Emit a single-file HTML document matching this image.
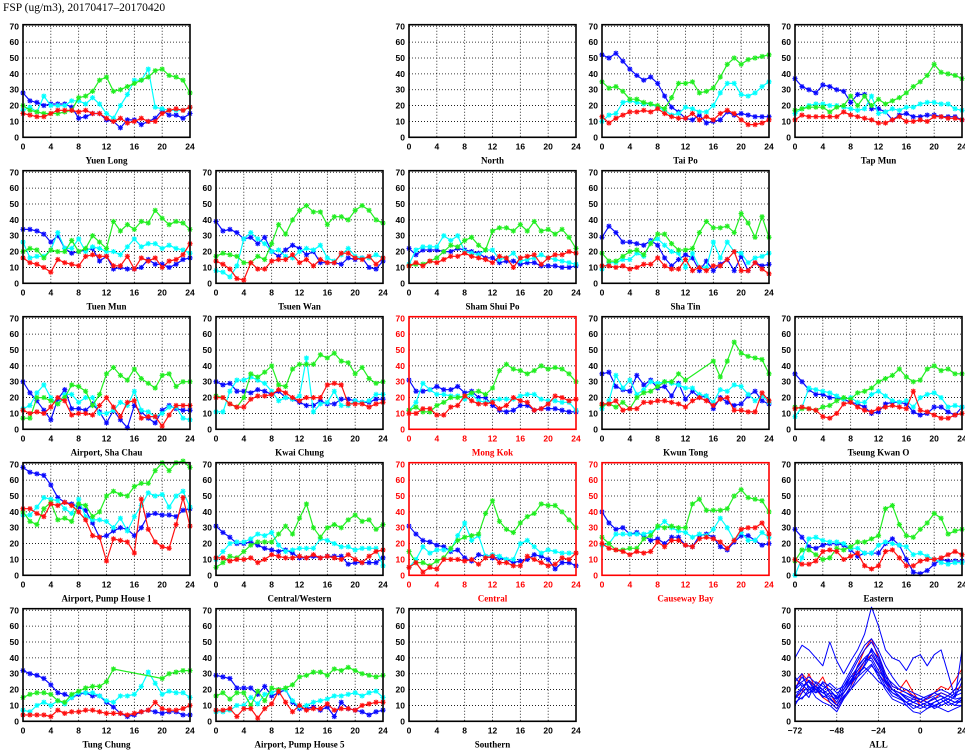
<!DOCTYPE html>
<html><head><meta charset="utf-8"><style>
html,body{margin:0;padding:0;background:#fff;}
svg{display:block;}
text{font-family:"Liberation Sans",sans-serif;font-weight:bold;}
</style></head><body>
<svg id="chart" width="965" height="755" viewBox="0 0 965 755" xmlns="http://www.w3.org/2000/svg">
<rect x="0" y="0" width="965" height="755" fill="#fff"/>
<text x="3" y="11" font-size="11.5" style="font-family:'Liberation Serif',serif;font-weight:normal">FSP (ug/m3), 20170417–20170420</text>
</svg>
<script>
const hours = [0,1,2,3,4,5,6,7,8,9,10,11,12,13,14,15,16,17,18,19,20,21,22,23,24];
const xTicks = [0,4,8,12,16,20,24];
const yTicks = [0,10,20,30,40,50,60,70];
const stations = ["Yuen Long","North","Tai Po","Tap Mun","Tuen Mun","Tsuen Wan","Sham Shui Po","Sha Tin","Airport, Sha Chau","Kwai Chung","Mong Kok","Kwun Tong","Tseung Kwan O","Airport, Pump House 1","Central/Western","Central","Causeway Bay","Eastern","Tung Chung","Airport, Pump House 5","Southern"];
const roadside = [false,false,false,false,false,false,false,false,false,false,true,false,false,false,false,true,true,false,false,false,false];
const N = null;
const blueSeries = [
[28,23,22,20,21,21,21,19,12,13,15,15,11,10,6,11,11,8,10,12,17,14,14,12,15],
[],
[52,50,53,48,43,39,36,38,34,26,19,16,12,11,14,9,10,11,16,14,15,14,13,13,13],
[37,32,30,28,33,32,30,29,22,27,27,18,18,16,11,14,15,13,13,14,14,13,13,13,11],
[34,34,33,31,26,30,22,19,20,21,22,14,17,9,10,9,9,10,15,12,12,10,12,15,16],
[39,33,34,32,28,29,25,29,20,17,21,24,22,18,20,13,13,13,12,16,15,16,10,9,14],
[22,18,21,21,21,20,20,22,21,20,19,16,16,13,14,14,12,13,13,11,11,11,10,10,11],
[29,36,32,26,26,25,24,27,24,16,11,15,18,16,8,14,8,12,15,8,17,8,13,11,12],
[30,23,18,12,6,19,25,13,13,12,16,11,4,12,6,1,15,11,7,4,12,15,13,12,12],
[30,28,29,24,24,23,25,24,22,24,20,19,17,15,15,18,16,16,19,19,18,17,17,19,19],
[31,24,24,25,27,25,25,27,23,24,20,20,15,12,11,12,15,15,12,13,13,13,12,11,11],
[35,36,27,25,24,34,28,31,26,27,21,29,19,24,20,21,13,20,17,15,16,21,24,18,16],
[35,30,25,22,22,20,20,19,17,16,14,10,11,16,17,17,16,11,9,10,14,14,11,9,14],
[68,65,64,63,57,49,46,45,43,41,33,24,25,28,30,29,25,30,38,39,38,38,37,41,42],
[31,27,24,20,20,21,19,17,16,15,16,14,11,11,12,11,12,12,12,7,8,8,8,8,11],
[31,26,22,21,19,18,15,16,11,9,13,12,11,11,10,8,9,10,13,12,10,4,8,8,6],
[40,33,29,30,26,27,25,22,23,20,24,24,19,18,25,26,24,18,16,21,25,25,22,19,20],
[29,24,18,17,19,20,20,19,16,12,14,14,14,20,23,19,10,2,1,3,7,10,9,9,9],
[32,30,29,27,23,18,17,15,17,18,16,16,12,9,5,3,4,6,7,6,5,6,6,4,4],
[29,28,27,21,21,21,17,22,16,18,20,12,8,8,9,7,9,3,12,8,7,6,4,6,7],
[]
];
const cyanSeries = [
[17,19,16,26,20,20,20,23,23,21,25,21,15,12,20,27,36,36,43,19,18,17,17,17,19],
[],
[10,14,15,22,23,22,21,21,19,17,14,15,19,18,16,16,20,28,34,34,27,26,28,32,35],
[15,18,20,21,21,20,20,19,18,17,18,26,15,16,18,17,19,19,21,22,22,21,21,18,17],
[26,16,17,17,21,32,22,22,28,20,23,22,20,20,18,23,28,23,25,25,22,24,22,21,19],
[8,7,4,11,28,32,28,25,20,21,17,16,20,22,21,24,16,14,18,22,17,16,16,18,16],
[12,21,23,23,23,30,27,30,20,19,18,21,21,15,16,19,14,15,16,18,16,15,14,13,12],
[9,13,13,15,15,19,17,26,28,24,20,19,10,19,10,10,26,16,26,20,19,13,16,17,19],
[13,15,23,28,20,16,22,22,17,20,20,10,10,12,17,15,24,12,11,8,10,14,14,7,6],
[11,11,24,31,31,33,31,29,24,18,20,19,21,45,11,16,17,24,15,15,18,17,18,22,22],
[12,17,29,25,22,22,21,21,19,22,18,17,18,19,19,19,21,22,22,19,18,18,17,17,12],
[13,18,34,26,31,22,25,30,29,30,29,28,26,26,22,21,17,25,24,28,27,22,18,21,17],
[8,14,26,25,24,23,21,19,20,17,17,22,24,21,18,17,18,14,20,22,23,20,14,15,14],
[38,38,43,49,48,47,42,39,48,37,35,35,34,30,36,28,37,44,52,50,51,43,50,53,43],
[10,15,20,21,21,23,26,25,27,19,15,16,17,17,17,23,22,20,18,18,16,17,17,17,6],
[5,10,18,14,16,16,16,25,33,22,25,12,13,12,10,10,20,22,18,14,16,15,14,14,14],
[19,20,26,26,26,26,26,27,30,34,30,28,27,24,26,25,29,36,30,22,27,22,22,27,24],
[0,11,23,24,22,21,21,20,17,17,14,14,19,21,20,19,18,13,14,12,10,8,7,8,8],
[7,6,10,12,10,13,11,15,18,18,18,16,13,12,16,16,17,22,31,24,17,19,18,18,15],
[6,6,7,10,10,15,11,17,18,20,20,13,9,10,12,13,14,16,16,17,18,16,18,19,15],
[]
];
const greenSeries = [
[20,17,16,15,15,15,16,17,25,26,29,36,38,29,30,32,34,36,38,42,43,39,38,36,28],
[],
[35,31,32,29,24,24,22,21,20,18,25,34,34,35,28,29,31,38,46,50,46,49,50,51,52],
[17,18,19,19,19,16,19,20,26,20,26,20,24,21,23,25,28,32,35,39,46,41,40,39,37],
[20,22,21,16,21,20,20,27,20,22,30,26,22,39,33,37,34,39,38,46,41,37,39,38,34],
[17,19,18,17,13,13,17,15,25,37,31,40,46,49,45,45,37,42,42,40,46,49,46,40,38],
[11,12,12,14,16,20,24,23,27,29,24,21,33,35,35,33,37,33,39,33,34,31,34,29,22],
[19,14,14,17,20,21,18,25,31,31,25,21,21,22,32,39,35,35,36,32,44,38,29,42,29],
[7,7,20,20,18,16,20,28,27,24,15,22,35,39,34,31,38,32,29,26,34,35,27,30,30],
[21,20,16,14,20,35,33,36,40,28,27,38,41,41,41,47,45,48,43,42,35,39,32,29,30],
[12,14,11,11,15,17,20,20,21,23,24,22,26,37,41,38,37,35,37,40,38,39,38,35,30],
[15,16,14,17,13,20,23,24,27,30,30,35,31,N,N,N,43,33,43,55,48,46,45,44,35],
[14,13,13,12,14,15,18,20,19,23,24,26,30,32,34,38,33,30,31,38,40,37,38,35,35],
[40,34,32,42,46,35,36,34,45,44,37,40,50,53,51,50,56,58,58,66,71,66,71,72,68],
[5,8,12,11,15,19,21,21,21,26,31,26,36,45,30,24,30,32,30,35,38,34,35,29,32],
[15,8,8,6,9,11,17,22,24,25,26,39,47,34,29,27,33,37,39,45,44,44,40,35,30],
[24,20,16,16,17,17,23,25,31,30,31,30,30,45,48,41,41,41,42,50,54,49,48,47,40],
[9,16,16,13,10,11,17,16,18,21,21,23,25,42,44,32,25,24,29,33,39,36,26,28,29],
[15,17,18,18,17,13,12,17,19,21,22,22,25,33,N,N,N,N,N,N,27,30,31,32,32],
[16,18,14,18,18,10,19,13,21,20,21,23,28,29,31,31,29,33,32,34,32,30,29,28,29],
[]
];
const redSeries = [
[15,14,13,13,15,17,17,17,16,17,15,15,12,10,12,9,10,12,10,10,15,17,18,17,19],
[],
[13,9,12,14,16,16,17,16,18,15,13,12,12,15,11,13,11,15,17,15,11,8,8,9,11],
[11,14,13,13,13,13,13,16,14,13,12,11,9,9,11,13,10,10,11,10,13,13,12,12,11],
[16,13,12,10,7,15,13,12,11,17,18,17,17,11,11,17,9,16,14,16,10,14,15,18,25],
[14,12,9,3,2,13,9,9,14,15,15,18,13,15,11,15,13,13,19,19,16,15,17,12,16],
[11,13,11,14,13,15,17,17,19,17,16,15,13,17,16,10,16,17,18,12,16,18,18,20,19],
[11,11,10,11,9,10,12,12,16,11,9,9,15,8,10,8,11,11,15,20,8,8,13,9,6],
[12,10,11,10,14,20,18,9,10,10,9,15,20,14,8,17,18,7,8,8,2,9,15,15,15],
[20,20,16,14,14,19,21,21,22,25,23,20,18,20,20,20,28,29,28,16,16,16,14,16,17],
[10,10,13,13,9,9,14,15,21,18,16,16,17,13,15,20,18,17,12,13,16,21,20,18,19],
[16,16,18,12,13,13,17,17,18,18,17,16,14,18,20,18,15,19,20,12,12,11,11,23,18],
[13,14,13,12,8,7,10,16,17,14,12,11,13,14,15,14,13,24,12,11,9,7,7,9,10],
[42,42,39,37,45,44,46,44,40,35,25,24,9,23,22,21,14,48,29,21,18,17,32,49,31],
[11,11,9,10,10,11,8,10,13,12,11,11,12,11,13,11,12,11,10,13,10,8,12,15,16],
[5,8,2,5,4,10,10,10,9,10,7,11,12,8,8,6,6,12,10,8,6,7,11,10,14],
[20,17,16,15,13,15,14,15,21,18,22,22,19,18,23,24,23,21,17,22,29,30,30,33,26],
[10,7,7,9,15,16,15,10,12,14,6,4,6,15,16,11,6,6,9,10,10,11,13,15,13],
[4,4,4,4,3,7,5,6,6,7,7,6,5,5,5,4,5,6,7,12,8,7,7,8,10],
[7,7,8,3,8,8,2,8,11,19,12,6,10,7,8,8,11,7,8,8,7,10,11,12,12],
[]
];
const allHours = [-72,-68,-64,-60,-56,-52,-48,-44,-40,-36,-32,-28,-24,-20,-16,-12,-8,-4,0,4,8,12,16,20,24];
const allTicks = [-72,-48,-24,0,24];
const allBlue = [
[40,48,45,40,35,50,38,30,38,45,55,72,60,45,40,38,32,40,42,35,42,45,30,15,45],
[20,28,22,20,18,15,10,18,25,32,38,45,40,28,20,18,15,12,10,12,15,10,12,10,14],
[15,22,25,18,20,12,8,15,22,35,40,38,30,22,18,15,12,10,8,10,12,14,10,12,15],
[25,30,20,22,15,18,12,20,28,30,35,42,35,25,20,18,16,14,12,15,18,16,14,18,20],
[10,18,22,15,12,10,6,14,20,28,32,36,28,20,14,12,10,6,5,8,10,8,6,8,10],
[22,25,28,24,20,16,14,22,30,38,45,50,42,30,22,20,18,15,14,16,18,20,18,15,25],
[18,20,15,25,22,20,15,18,24,30,34,30,25,22,16,14,12,8,10,12,10,12,14,12,12],
[12,15,18,20,16,14,10,16,20,25,30,35,30,24,18,16,10,12,14,12,8,10,12,10,10],
[28,22,25,20,24,18,16,24,32,40,48,52,45,35,28,22,20,18,16,14,16,18,16,20,28],
[16,14,20,18,25,22,18,20,26,32,38,40,32,26,20,18,14,12,10,8,12,14,16,14,15],
[20,24,18,22,20,24,20,22,28,34,40,44,36,28,24,20,18,16,14,12,14,16,12,16,18],
[14,20,26,22,18,20,14,18,24,28,36,46,38,26,20,16,12,14,12,10,9,12,14,12,13]
];
const allRed = [
[20,30,25,22,28,18,10,18,25,35,45,52,40,30,22,20,26,18,12,14,18,22,20,26,33],
[15,18,30,20,15,12,8,15,22,30,38,42,35,24,20,18,20,16,10,12,14,18,16,20,22]
];

// layout (not data)
const layout = [[0,0],[2,0],[3,0],[4,0],[0,1],[1,1],[2,1],[3,1],[0,2],[1,2],[2,2],[3,2],[4,2],[0,3],[1,3],[2,3],[3,3],[4,3],[0,4],[1,4],[2,4]];
const PW = 167, PH = 112.6, X0 = 23, Y0 = 24.7, CP = 193, RP = 146, YMAX = 71;
const NS = "http://www.w3.org/2000/svg";
const svg = document.getElementById('chart');
function mk(tag, attrs, parent){ const e=document.createElementNS(NS,tag); for(const k in attrs) e.setAttribute(k,attrs[k]); (parent||svg).appendChild(e); return e; }
function slug(s){ return s.toLowerCase().replace(/[^a-z0-9]+/g,'-').replace(/^-|-$/g,''); }

function drawFrame(g, left, top, xmin, xmax, ticks, isRed, name){
  const col = isRed ? '#ff0000' : '#000';
  const xs = v => left + (v - xmin)/(xmax - xmin)*PW;
  const ys = v => top + PH - v/YMAX*PH;
  yTicks.forEach(t => {
    if (t>0){ const l = mk('line',{x1:left,x2:left+PW,y1:ys(t),y2:ys(t),stroke:'#000','stroke-width':0.8,'stroke-dasharray':'1,2'},g);
      
       }
    const tx = mk('text',{x:left-4,y:ys(t)+3,'font-size':8.5,'text-anchor':'end',fill:col},g);
    tx.textContent = t;
    
    
  });
  ticks.forEach(t => {
    if (t>xmin && t<xmax){ const l = mk('line',{x1:xs(t),x2:xs(t),y1:top,y2:top+PH,stroke:'#000','stroke-width':0.8,'stroke-dasharray':'1,2'},g);
      
       }
    const tx = mk('text',{x:xs(t),y:top+PH+12,'font-size':8.5,'text-anchor':'middle',fill:col},g);
    tx.textContent = t < 0 ? '\u2212'+(-t) : t;
    
    
  });
  const tt = mk('text',{x:left+PW/2,y:top+PH+26,'font-size':9,'text-anchor':'middle',fill:col,style:"font-family:'Liberation Serif',serif;font-weight:bold"},g);
  tt.textContent = name;
  
  
  return {xs, ys, col};
}
function drawBorder(g,left,top,col){
  const r = mk('rect',{x:left,y:top,width:PW,height:PH,fill:'none',stroke:col,'stroke-width':1.6},g);
  
  
}
function drawSeries(g, xsArr, vals, color, xs, ys, markers, sw, nm){
  const pts = [];
  vals.forEach((v,i)=>{ if (v!==null && v!==undefined) pts.push([xs(xsArr[i]), ys(v)]); });
  if (!pts.length) return;
  const p = mk('polyline',{points:pts.map(p=>p[0].toFixed(1)+','+p[1].toFixed(1)).join(' '),fill:'none',stroke:color,'stroke-width':sw,'stroke-linejoin':'round'},g);
  
  
  if (markers){
    let d='';
    const r=2.6;
    pts.forEach(([x,y])=>{ d+=`M${x-r},${y}h${2*r}M${x},${y-r}v${2*r}M${x-r*0.75},${y-r*0.75}l${1.5*r},${1.5*r}M${x-r*0.75},${y+r*0.75}l${1.5*r},${-1.5*r}`; });
    const m = mk('path',{d:d,stroke:color,'stroke-width':1.1,fill:'none'},g);
    
    
  }
}

stations.forEach((name,i)=>{
  const [c,r] = layout[i];
  const left = X0 + c*CP, top = Y0 + r*RP;
  const g = mk('g',{});
  
  
  const s = drawFrame(g,left,top,0,24,xTicks,roadside[i],name);
  drawSeries(g,hours,blueSeries[i],'#0a0aff',s.xs,s.ys,true,1.2,'blue-series');
  drawSeries(g,hours,cyanSeries[i],'#00ffff',s.xs,s.ys,true,1.2,'cyan-series');
  drawSeries(g,hours,greenSeries[i],'#22ee22',s.xs,s.ys,true,1.2,'green-series');
  drawSeries(g,hours,redSeries[i],'#ff1010',s.xs,s.ys,true,1.2,'red-series');
  drawBorder(g,left,top,s.col);
});

// ALL panel
(function(){
  const left = X0 + 4*CP, top = Y0 + 4*RP;
  const g = mk('g',{});
  
  
  const s = drawFrame(g,left,top,-72,24,allTicks,false,'ALL');
  allRed.forEach(v=>drawSeries(g,allHours,v,'#ff0000',s.xs,s.ys,false,1,'all-red-series'));
  allBlue.forEach(v=>drawSeries(g,allHours,v,'#0000ff',s.xs,s.ys,false,1,'all-blue-series'));
  drawBorder(g,left,top,'#000');
})();
</script>
</body></html>
